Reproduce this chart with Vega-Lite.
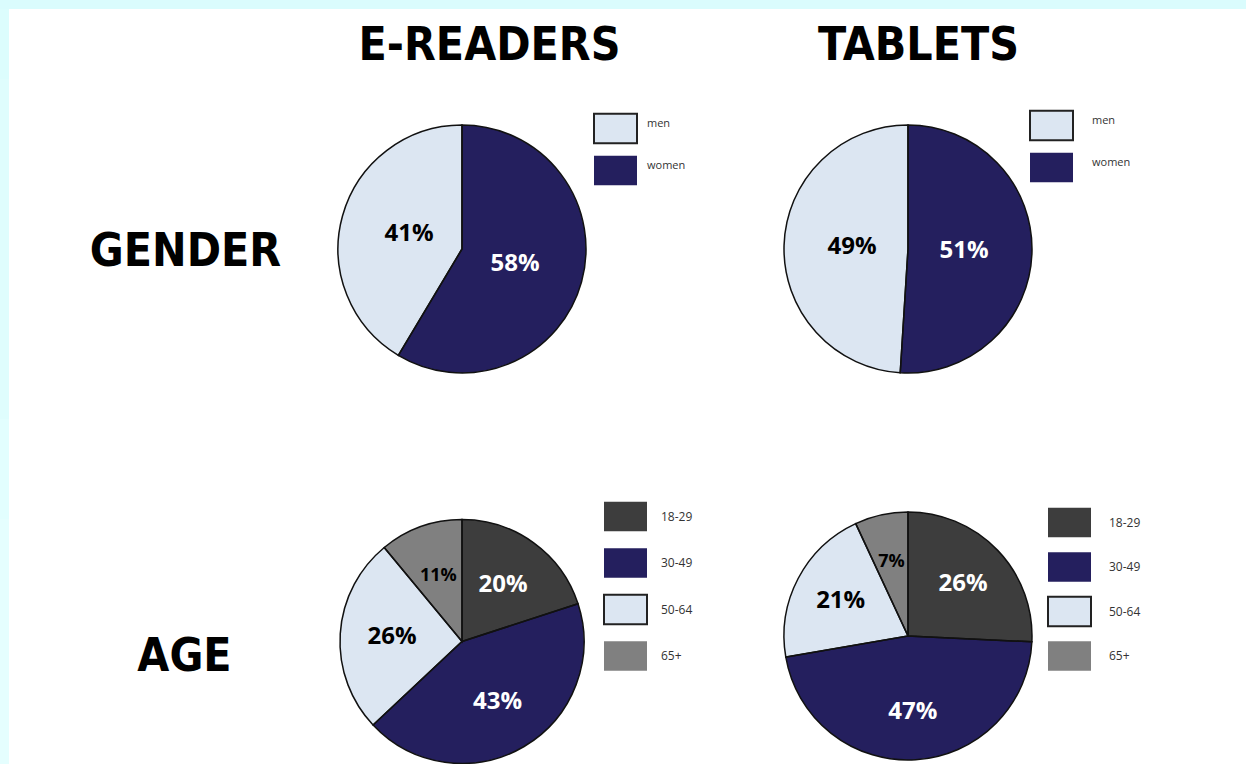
{
  "$schema": "https://vega.github.io/schema/vega-lite/v6.json",
  "background": "white",
  "padding": 0,
  "bounds": "flush",
  "spacing": 0,
  "columns": 5,
  "config": {"view": {"stroke": null}, "font": "Open Sans"},
  "resolve": {"scale": {"color": "independent", "theta": "independent"}, "legend": {"color": "independent"}},
  "concat": [
    {"width": 9, "height": 9, "view": {"fill": "#dafcfd"}, "data": {"values": [{}]}, "mark": {"type": "rect", "opacity": 0}, "encoding": {}},
    {"width": 230, "height": 9, "view": {"fill": "#dafcfd"}, "data": {"values": [{}]}, "mark": {"type": "rect", "opacity": 0}, "encoding": {}},
    {"width": 446, "height": 9, "view": {"fill": "#dafcfd"}, "data": {"values": [{}]}, "mark": {"type": "rect", "opacity": 0}, "encoding": {}},
    {"width": 446, "height": 9, "view": {"fill": "#dafcfd"}, "data": {"values": [{}]}, "mark": {"type": "rect", "opacity": 0}, "encoding": {}},
    {"width": 115, "height": 9, "view": {"fill": "#dafcfd"}, "data": {"values": [{}]}, "mark": {"type": "rect", "opacity": 0}, "encoding": {}},

    {"width": 9, "height": 70, "view": {"fill": "#dcfdfd"}, "data": {"values": [{}]}, "mark": {"type": "rect", "opacity": 0}, "encoding": {}},
    {"width": 230, "height": 70, "data": {"values": [{}]}, "mark": {"type": "rect", "opacity": 0}, "encoding": {}},
    {
      "width": 446, "height": 70,
      "data": {"values": [{"t": "E-READERS"}]},
      "mark": {"type": "text", "font": "DejaVu Sans Condensed", "fontWeight": "bold", "fontSize": 46, "baseline": "alphabetic", "dx": 27.5, "dy": 16, "color": "black"},
      "encoding": {"text": {"field": "t"}}
    },
    {
      "width": 446, "height": 70,
      "data": {"values": [{"t": "TABLETS"}]},
      "mark": {"type": "text", "font": "DejaVu Sans Condensed", "fontWeight": "bold", "fontSize": 46, "baseline": "alphabetic", "dx": 10.5, "dy": 16, "color": "black"},
      "encoding": {"text": {"field": "t"}}
    },
    {"width": 115, "height": 70, "data": {"values": [{}]}, "mark": {"type": "rect", "opacity": 0}, "encoding": {}},

    {"width": 9, "height": 340, "view": {"fill": "#dffdfd"}, "data": {"values": [{}]}, "mark": {"type": "rect", "opacity": 0}, "encoding": {}},
    {
      "width": 230, "height": 340,
      "data": {"values": [{"t": "GENDER"}]},
      "mark": {"type": "text", "font": "DejaVu Sans Condensed", "fontWeight": "bold", "fontSize": 46, "baseline": "alphabetic", "dx": 61.5, "dy": 17.3, "color": "black"},
      "encoding": {"text": {"field": "t"}}
    },
    {
      "width": 446, "height": 340,
      "data": {"values": [
        {"cat": "women", "value": 0.58, "ord": 1},
        {"cat": "men", "value": 0.41, "ord": 2}
      ]},
      "encoding": {
        "theta": {"field": "value", "type": "quantitative", "stack": true},
        "order": {"field": "ord", "type": "quantitative"}
      },
      "layer": [
        {
          "mark": {"type": "arc", "radius": 124, "strokeWidth": 0},
          "encoding": {
            "color": {
              "field": "cat", "type": "nominal",
              "scale": {"domain": ["men", "women"], "range": ["#dce6f2", "#241f5e"]},
              "legend": {
                "orient": "none", "legendX": 354, "legendY": 27, "title": null, "padding": 0,
                "symbolType": "M-1,-0.69H1V0.69H-1Z", "symbolSize": 1849, "symbolStrokeWidth": 2,
                "symbolStrokeColor": {"expr": "datum.value === 'men' ? '#222' : 'transparent'"},
                "labelFont": "Open Sans", "labelFontSize": 11, "labelColor": "#333", "labelOffset": 9, "rowPadding": 0,
                "labelBaseline": "bottom"
              }
            }
          }
        },
        {
          "mark": {"type": "arc", "radius": 124, "filled": false, "stroke": "#111", "strokeWidth": 1.5},
          "encoding": {"detail": {"field": "cat"}}
        },
        {
          "mark": {"type": "text", "radius": 55, "font": "Open Sans", "fontWeight": "bold"},
          "encoding": {
            "detail": {"field": "cat"},
            "text": {"field": "value", "type": "quantitative", "format": ".0%"},
            "color": {"condition": {"test": "datum.cat === 'men'", "value": "black"}, "value": "white"},
            "size": {"value": 24}
          }
        }
      ]
    },
    {
      "width": 446, "height": 340,
      "data": {"values": [
        {"cat": "women", "value": 0.51, "ord": 1},
        {"cat": "men", "value": 0.49, "ord": 2}
      ]},
      "encoding": {
        "theta": {"field": "value", "type": "quantitative", "stack": true},
        "order": {"field": "ord", "type": "quantitative"}
      },
      "layer": [
        {
          "mark": {"type": "arc", "radius": 124, "strokeWidth": 0},
          "encoding": {
            "color": {
              "field": "cat", "type": "nominal",
              "scale": {"domain": ["men", "women"], "range": ["#dce6f2", "#241f5e"]},
              "legend": {
                "orient": "none", "legendX": 344, "legendY": 24, "title": null, "padding": 0,
                "symbolType": "M-1,-0.69H1V0.69H-1Z", "symbolSize": 1849, "symbolStrokeWidth": 2,
                "symbolStrokeColor": {"expr": "datum.value === 'men' ? '#222' : 'transparent'"},
                "labelFont": "Open Sans", "labelFontSize": 11, "labelColor": "#333", "labelOffset": 18, "rowPadding": 0,
                "labelBaseline": "bottom"
              }
            }
          }
        },
        {
          "mark": {"type": "arc", "radius": 124, "filled": false, "stroke": "#111", "strokeWidth": 1.5},
          "encoding": {"detail": {"field": "cat"}}
        },
        {
          "mark": {"type": "text", "radius": 56, "font": "Open Sans", "fontWeight": "bold"},
          "encoding": {
            "detail": {"field": "cat"},
            "text": {"field": "value", "type": "quantitative", "format": ".0%"},
            "color": {"condition": {"test": "datum.cat === 'men'", "value": "black"}, "value": "white"},
            "size": {"value": 24}
          }
        }
      ]
    },
    {"width": 115, "height": 340, "data": {"values": [{}]}, "mark": {"type": "rect", "opacity": 0}, "encoding": {}},

    {"width": 9, "height": 100, "view": {"fill": "#e2fefe"}, "data": {"values": [{}]}, "mark": {"type": "rect", "opacity": 0}, "encoding": {}},
    {"width": 230, "height": 100, "data": {"values": [{}]}, "mark": {"type": "rect", "opacity": 0}, "encoding": {}},
    {"width": 446, "height": 100, "data": {"values": [{}]}, "mark": {"type": "rect", "opacity": 0}, "encoding": {}},
    {"width": 446, "height": 100, "data": {"values": [{}]}, "mark": {"type": "rect", "opacity": 0}, "encoding": {}},
    {"width": 115, "height": 100, "data": {"values": [{}]}, "mark": {"type": "rect", "opacity": 0}, "encoding": {}},

    {"width": 9, "height": 245, "view": {"fill": "#e5fefe"}, "data": {"values": [{}]}, "mark": {"type": "rect", "opacity": 0}, "encoding": {}},
    {
      "width": 230, "height": 245,
      "data": {"values": [{"t": "AGE"}]},
      "mark": {"type": "text", "font": "DejaVu Sans Condensed", "fontWeight": "bold", "fontSize": 46, "baseline": "alphabetic", "dx": 60.5, "dy": 29.3, "color": "black"},
      "encoding": {"text": {"field": "t"}}
    },
    {
      "width": 446, "height": 245,
      "data": {"values": [
        {"cat": "18-29", "value": 0.20, "ord": 1},
        {"cat": "30-49", "value": 0.43, "ord": 2},
        {"cat": "50-64", "value": 0.26, "ord": 3},
        {"cat": "65+", "value": 0.11, "ord": 4}
      ]},
      "encoding": {
        "theta": {"field": "value", "type": "quantitative", "stack": true},
        "order": {"field": "ord", "type": "quantitative"}
      },
      "layer": [
        {
          "mark": {"type": "arc", "radius": 122, "strokeWidth": 0},
          "encoding": {
            "color": {
              "field": "cat", "type": "nominal",
              "scale": {"domain": ["18-29", "30-49", "50-64", "65+"], "range": ["#3d3d3d", "#241f5e", "#dce6f2", "#808080"]},
              "legend": {
                "orient": "none", "legendX": 364, "legendY": -25, "title": null, "padding": 0,
                "symbolType": "M-1,-0.69H1V0.69H-1Z", "symbolSize": 1849, "symbolStrokeWidth": 2,
                "symbolStrokeColor": {"expr": "datum.value === '50-64' ? '#222' : 'transparent'"},
                "labelFont": "Open Sans", "labelFontSize": 12, "labelColor": "#333", "labelOffset": 13, "rowPadding": 4.5
              }
            }
          }
        },
        {
          "mark": {"type": "arc", "radius": 122, "filled": false, "stroke": "#111", "strokeWidth": 1.5},
          "encoding": {"detail": {"field": "cat"}}
        },
        {
          "mark": {"type": "text", "radius": 70, "font": "Open Sans", "fontWeight": "bold"},
          "encoding": {
            "detail": {"field": "cat"},
            "text": {"field": "value", "type": "quantitative", "format": ".0%"},
            "color": {"condition": {"test": "datum.cat === '50-64' || datum.cat === '65+'", "value": "black"}, "value": "white"},
            "size": {"condition": {"test": "datum.value < 0.15", "value": 18}, "value": 24}
          }
        }
      ]
    },
    {
      "width": 446, "height": 234,
      "data": {"values": [
        {"cat": "18-29", "value": 0.26, "ord": 1},
        {"cat": "30-49", "value": 0.47, "ord": 2},
        {"cat": "50-64", "value": 0.21, "ord": 3},
        {"cat": "65+", "value": 0.07, "ord": 4}
      ]},
      "encoding": {
        "theta": {"field": "value", "type": "quantitative", "stack": true},
        "order": {"field": "ord", "type": "quantitative"}
      },
      "layer": [
        {
          "mark": {"type": "arc", "radius": 124, "strokeWidth": 0},
          "encoding": {
            "color": {
              "field": "cat", "type": "nominal",
              "scale": {"domain": ["18-29", "30-49", "50-64", "65+"], "range": ["#3d3d3d", "#241f5e", "#dce6f2", "#808080"]},
              "legend": {
                "orient": "none", "legendX": 362, "legendY": -19, "title": null, "padding": 0,
                "symbolType": "M-1,-0.69H1V0.69H-1Z", "symbolSize": 1849, "symbolStrokeWidth": 2,
                "symbolStrokeColor": {"expr": "datum.value === '50-64' ? '#222' : 'transparent'"},
                "labelFont": "Open Sans", "labelFontSize": 12, "labelColor": "#333", "labelOffset": 17, "rowPadding": 2.5
              }
            }
          }
        },
        {
          "mark": {"type": "arc", "radius": 124, "filled": false, "stroke": "#111", "strokeWidth": 1.5},
          "encoding": {"detail": {"field": "cat"}}
        },
        {
          "mark": {"type": "text", "radius": 76, "font": "Open Sans", "fontWeight": "bold"},
          "encoding": {
            "detail": {"field": "cat"},
            "text": {"field": "value", "type": "quantitative", "format": ".0%"},
            "color": {"condition": {"test": "datum.cat === '50-64' || datum.cat === '65+'", "value": "black"}, "value": "white"},
            "size": {"condition": {"test": "datum.value < 0.15", "value": 18}, "value": 24}
          }
        }
      ]
    },
    {"width": 115, "height": 245, "data": {"values": [{}]}, "mark": {"type": "rect", "opacity": 0}, "encoding": {}}
  ]
}
